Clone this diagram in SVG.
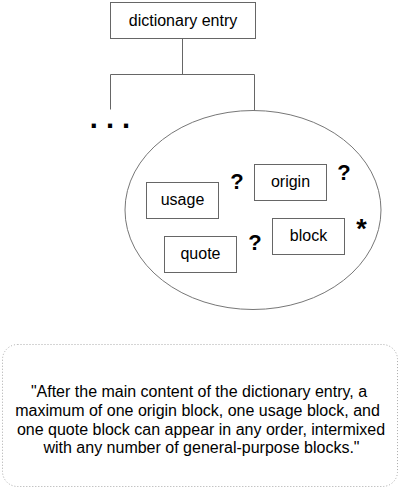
<svg xmlns="http://www.w3.org/2000/svg" width="401" height="491" viewBox="0 0 401 491">
<style>
.box{fill:#fff;stroke:#666;stroke-width:1}
.lbl{font-family:"Liberation Sans",Arial,sans-serif;font-size:16px;fill:#000;text-anchor:middle}
.mark{font-family:"Liberation Sans",Arial,sans-serif;font-weight:bold;font-size:22px;fill:#000;text-anchor:middle}
.conn{fill:none;stroke:#666;stroke-width:1}
.note{font-family:"Liberation Sans",Arial,sans-serif;font-size:16px;fill:#000;text-anchor:middle}
</style>
<rect width="401" height="491" fill="#fff"/>
<g id="connectors">
<path class="conn" d="M182.5 38.5 V74.5 M110.5 109.5 V74.5 H254.5 V110.5"/>
</g>
<g id="entry">
<rect class="box" x="110.5" y="2.5" width="145" height="36"/>
<text class="lbl" x="183" y="26">dictionary entry</text>
</g>
<g id="more">
<text x="110" y="128" style="font-family:'Liberation Sans',Arial,sans-serif;font-weight:bold;font-size:29px;text-anchor:middle">. . .</text>
</g>
<g id="group">
<ellipse cx="253" cy="210" rx="128" ry="99.5" fill="none" stroke="#777" stroke-width="1"/>
</g>
<g id="usage">
<rect class="box" x="146.5" y="182.5" width="72" height="36"/>
<text class="lbl" x="182.5" y="205">usage</text>
<text class="mark" x="237" y="189">?</text>
</g>
<g id="origin">
<rect class="box" x="254.5" y="164.5" width="72" height="36"/>
<text class="lbl" x="290.5" y="187">origin</text>
<text class="mark" x="344" y="180">?</text>
</g>
<g id="block">
<rect class="box" x="272.5" y="218.5" width="72" height="36"/>
<text class="lbl" x="308.5" y="241">block</text>
<text class="mark" x="361.5" y="238" style="font-size:27px">*</text>
</g>
<g id="quote">
<rect class="box" x="164.5" y="236.5" width="72" height="36"/>
<text class="lbl" x="200.5" y="259">quote</text>
<text class="mark" x="255" y="250">?</text>
</g>
<g id="note">
<rect x="2.5" y="344.5" width="395" height="142" rx="15" ry="15" fill="none" stroke="#aaa" stroke-width="1" stroke-dasharray="1,2"/>
<text class="note" x="199" y="397">"After the main content of the dictionary entry, a</text>
<text class="note" x="197.5" y="416">maximum of one origin block, one usage block, and</text>
<text class="note" x="201" y="434.5">one quote block can appear in any order, intermixed</text>
<text class="note" x="201.5" y="453">with any number of general-purpose blocks."</text>
</g>
</svg>
